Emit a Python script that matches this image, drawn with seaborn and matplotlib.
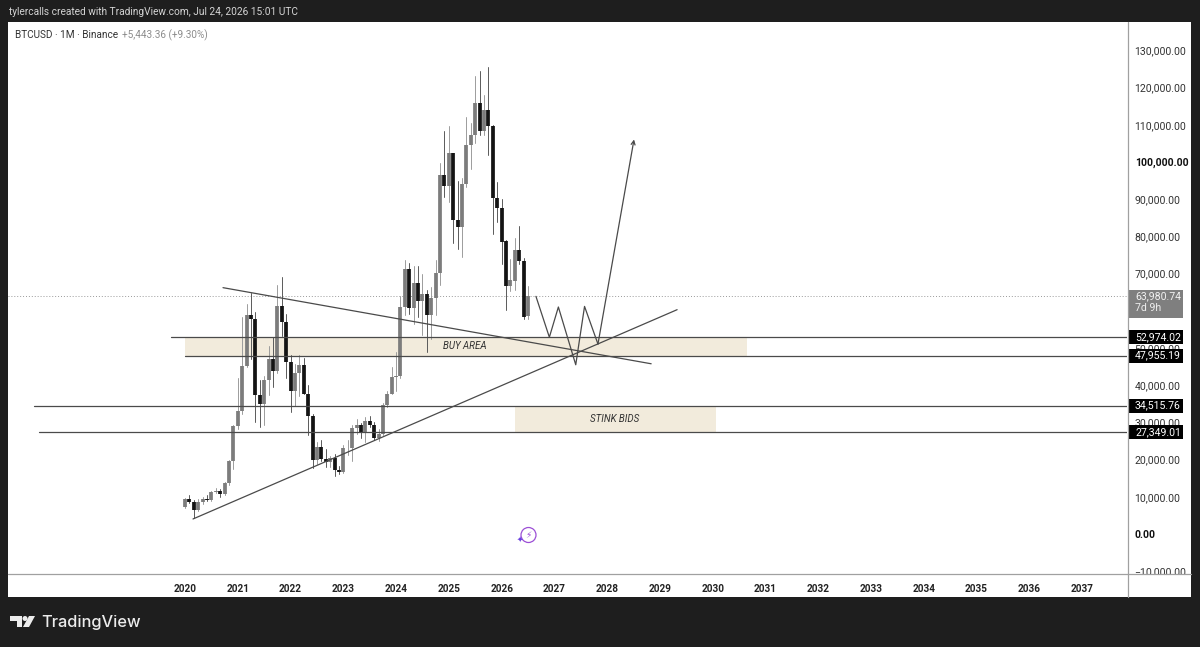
# BTCUSD monthly chart with trade plan drawings

import numpy as np
import pandas as pd
import matplotlib.pyplot as plt
from matplotlib.lines import Line2D
from matplotlib.patches import Rectangle, Ellipse, Polygon
import seaborn as sns

sns.set_theme(style='white')
plt.rcParams['font.family'] = ['Roboto', 'DejaVu Sans']

# Monthly candles, Jan 2020 to Jul 2026
opens = [7195, 9351, 8599, 6412, 8620, 9448, 9138, 11335, 11649, 10776, 13791, 19700,
         28923, 33092, 45134, 58739, 57697, 37253, 35045, 41461, 47100, 43820, 61299, 56950,
         46216, 38466, 43160, 45510, 37630, 31801, 19942, 23296, 20048, 19422, 20490, 17165,
         16541, 23125, 23141, 28465, 29233, 27210, 30471, 29232, 25940, 26963, 34639, 37723,
         42283, 42580, 61130, 71280, 60672, 67491, 62678, 64628, 58974, 63327, 70292, 96407,
         93429, 102429, 84350, 82550, 94172, 104591, 107146, 115764, 108246, 114048, 109608, 90400,
         87500, 78700, 66750, 67900, 76250, 73500, 58537]
highs = [9578, 10500, 9188, 9460, 10067, 10380, 11444, 12468, 12050, 14100, 19863, 29300,
         41950, 58352, 61844, 64854, 59592, 41330, 42448, 50500, 52920, 67000, 69000, 59053,
         47990, 45821, 48189, 47444, 40023, 32387, 24668, 25214, 22799, 20988, 21480, 18387,
         23960, 25250, 29184, 31000, 29820, 31431, 31804, 30230, 28142, 35198, 38450, 45000,
         48969, 64000, 73777, 72797, 71979, 71958, 70000, 65593, 66498, 73620, 99800, 108353,
         109588, 102500, 95000, 95758, 111980, 110530, 123218, 124474, 117900, 125600, 110000, 94600,
         90000, 79000, 73800, 79700, 82700, 74200, 66600]
lows = [6914, 8445, 4300, 6150, 8106, 8833, 8893, 11100, 9825, 10371, 13195, 17572,
        28130, 32296, 44961, 47044, 30000, 28805, 29278, 37332, 39600, 43283, 53256, 42000,
        32917, 34322, 37155, 37578, 26700, 17622, 18781, 19520, 18125, 18136, 15476, 16256,
        16499, 21351, 19549, 26942, 25811, 24800, 28861, 25166, 24900, 26538, 34097, 37617,
        38555, 41892, 59005, 59191, 56552, 58402, 53550, 49000, 52550, 58946, 66835, 90500,
        89256, 78249, 76606, 74508, 93377, 98200, 105100, 107350, 107255, 102000, 80600, 84000,
        72500, 60100, 65200, 65700, 72500, 57900, 57900]
closes = [9352, 8599, 6410, 8620, 9448, 9138, 11335, 11649, 10776, 13791, 19700, 28923,
          33092, 45135, 58740, 57694, 37253, 35045, 41461, 47100, 43824, 61299, 56950, 46216,
          38466, 43160, 45510, 37630, 31801, 19942, 23293, 20050, 19422, 20490, 17163, 16542,
          23125, 23141, 28465, 29233, 27210, 30472, 29232, 25940, 26963, 34639, 37724, 42265,
          42580, 61130, 71280, 60672, 67491, 62678, 64628, 58974, 63327, 70292, 96407, 93429,
          102429, 84350, 82550, 94172, 104591, 107146, 115764, 108246, 114048, 109608, 90400, 87500,
          78400, 66750, 68400, 76250, 73500, 58400, 63980.74]

years = list(range(2020, 2038))
price_ticks = list(range(-10000, 130001, 10000))
bold_ticks = [0, 100000]

# Drawings, x in months since Jan 2020
level_prices = [52974.02, 47955.19, 34515.76, 27349.01]
level_starts = [-3.2, 0, -34.3, -33.2]
trend_down_x, trend_down_y = [8.64, 106], [66220, 45760]
trend_up_x, trend_up_y = [1.82, 111.9], [4040, 60300]
path_x = [79.8, 82.85, 84.9, 88.85, 90.85, 93.9]
path_y = [63880, 52900, 61020, 45490, 61180, 51060]
arrow_tip = (102.1, 106060)
last_price = 63980.74

W, H = 1200, 647
DARK = '#1e1e1e'
LINE = '#4a4a4a'
SAND = '#f2ebdc'
AXIS = '#a0a0a0'

fig = plt.figure(figsize=(W / 100, H / 100), dpi=100, facecolor=DARK)
fig.patches.append(Rectangle((8 / W, 1 - 597 / H), 1183 / W, 575 / H, transform=fig.transFigure,
                             facecolor='white', edgecolor='none', zorder=-5))
ax = fig.add_axes([8 / W, 1 - 574 / H, 1119 / W, 552 / H], facecolor='none')

# Candles: thin line for the wick, thick butt-ended line for the body
months = np.arange(len(opens))
direction = ['up' if c >= o else 'down' for o, c in zip(opens, closes)]
candles = pd.DataFrame({'month': months, 'open': opens, 'high': highs, 'low': lows,
                        'close': closes, 'direction': direction})
wicks = candles.melt(id_vars=['month', 'direction'], value_vars=['low', 'high'], value_name='price')
bodies = candles.melt(id_vars=['month', 'direction'], value_vars=['open', 'close'], value_name='price')

sns.lineplot(data=wicks, x='month', y='price', hue='direction', units='month', estimator=None,
             palette={'up': '#9c9c9c', 'down': '#5a5a5a'}, linewidth=0.7, legend=False, ax=ax, zorder=3)
sns.lineplot(data=bodies, x='month', y='price', hue='direction', units='month', estimator=None,
             palette={'up': '#7c7c7c', 'down': '#141414'}, linewidth=2.7, solid_capstyle='butt',
             legend=False, ax=ax, zorder=4)

# Zones
ax.add_patch(Rectangle((0, level_prices[1]), 127.8, level_prices[0] - level_prices[1],
                       facecolor=SAND, edgecolor='none', zorder=1))
ax.add_patch(Rectangle((75.05, level_prices[3]), 45.75, level_prices[2] - level_prices[3],
                       facecolor=SAND, edgecolor='none', zorder=1))
ax.text(63.7, 50460, 'BUY AREA', style='italic', fontsize=7, color='#333333',
        ha='center', va='center', zorder=6)
ax.text(97.8, 30950, 'STINK BIDS', style='italic', fontsize=7, color='#333333',
        ha='center', va='center', zorder=6)

# Levels and trend lines
ax.axhline(last_price, color='#9a9a9a', linewidth=0.7, linestyle=(0, (1, 2)), zorder=2)
for price, start in zip(level_prices, level_starts):
    ax.plot([start, 214.2], [price, price], color=LINE, linewidth=0.9, zorder=5)
sns.lineplot(x=trend_down_x, y=trend_down_y, color=LINE, linewidth=0.9, ax=ax, zorder=5)
sns.lineplot(x=trend_up_x, y=trend_up_y, color=LINE, linewidth=0.9, ax=ax, zorder=5)
ax.plot(path_x, path_y, color=LINE, linewidth=0.9, zorder=5)
ax.annotate('', xy=arrow_tip, xytext=(path_x[-1], path_y[-1]), zorder=5,
            arrowprops=dict(arrowstyle='->', color=LINE, lw=0.9, shrinkA=0, shrinkB=0, mutation_scale=7))

# Axes
ax.set_xlim(-40.25, 214.2)
ax.set_ylim(-10753, 137634)
ax.set_xlabel('')
ax.set_ylabel('')
ax.yaxis.tick_right()
ax.set_xticks([(y - 2020) * 12 for y in years], [str(y) for y in years])
ax.set_yticks(price_ticks, [f'{p:,.2f}'.replace('-', '\u2212') for p in price_ticks])
ax.tick_params(axis='both', length=0, labelsize=7.6, labelcolor='#333333')
ax.tick_params(axis='x', pad=7, labelcolor='#222222')
ax.tick_params(axis='y', pad=5.5)
for lab in ax.get_xticklabels():
    lab.set_fontweight('bold')
    lab.set_fontsize(7.2)
for lab, p in zip(ax.get_yticklabels(), price_ticks):
    if p in bold_ticks:
        lab.set_fontweight('bold')
        lab.set_color('#111111')
for spine in ax.spines.values():
    spine.set_visible(False)

# Price labels on the scale
label_x = 1 + 8 / 1119
box_x = 1 + 1 / 1119
box_w = 55 / 1119
box_half = 1880
for price in level_prices:
    ax.add_patch(Rectangle((box_x, price - box_half), box_w, 2 * box_half,
                           transform=ax.get_yaxis_transform(), facecolor='black', edgecolor='none',
                           clip_on=False, zorder=7))
    ax.text(label_x, price, f'{price:,.2f}', transform=ax.get_yaxis_transform(), color='white',
            fontsize=7.6, va='center', ha='left', zorder=8, clip_on=False)
ax.add_patch(Rectangle((box_x, 58100), box_w, 7490, transform=ax.get_yaxis_transform(),
                       facecolor='#7f7f7f', edgecolor='none', clip_on=False, zorder=7))
ax.text(label_x, last_price, f'{last_price:,.2f}', transform=ax.get_yaxis_transform(), color='#f2f2f2',
        fontsize=7.6, va='center', ha='left', zorder=8, clip_on=False)
ax.text(label_x, last_price - 3230, '7d 9h', transform=ax.get_yaxis_transform(), color='#eeeeee',
        fontsize=7.6, va='center', ha='left', zorder=8, clip_on=False)

# The time scale hides the bottom of the price scale, and its rules run to the panel edge
fig.patches.append(Rectangle((1128 / W, 1 - 597 / H), 63 / W, 23 / H, transform=fig.transFigure,
                             facecolor='white', edgecolor='none', zorder=1))
fig.add_artist(Line2D([8 / W, 1191 / W], [1 - 574 / H, 1 - 574 / H], color=AXIS, linewidth=0.9, zorder=2))
fig.add_artist(Line2D([1127.7 / W, 1127.7 / W], [1 - 22 / H, 1 - 597 / H], color=AXIS, linewidth=0.9, zorder=2))

# Header and footer
fig.text(9 / W, 1 - 12 / H, 'tylercalls created with TradingView.com, Jul 24, 2026 15:01 UTC',
         color='#d4d4d4', fontsize=7.25, va='center', ha='left')
fig.text(15 / W, 1 - 35 / H, 'BTCUSD \u00b7 1M \u00b7 Binance', color='#333333', fontsize=7.2,
         va='center', ha='left')
fig.text(122 / W, 1 - 35 / H, '+5,443.36 (+9.30%)', color='#8c8c8c', fontsize=7.2,
         va='center', ha='left')
fig.text(41 / W, 1 - 622.5 / H, 'TradingView', color='#ececec', fontsize=11.8, fontweight='medium',
         family='Inter', va='center', ha='left')

# TradingView mark, in pixels from the top left
def px(points):
    return [(x / W, 1 - y / H) for x, y in points]

for shape in [px([(10, 616), (22, 616), (22, 627), (17, 627), (17, 621), (10, 621)]),
              px([(29, 616), (35, 616), (29, 627), (23, 627)])]:
    fig.patches.append(Polygon(shape, closed=True, transform=fig.transFigure,
                               facecolor='#ececec', edgecolor='none'))
fig.patches.append(Ellipse((25 / W, 1 - 618.5 / H), 5 / W, 5 / H, transform=fig.transFigure,
                           facecolor='#ececec', edgecolor='none'))

# Purple bolt marker above the time scale
fig.patches.append(Ellipse((528.5 / W, 1 - 535 / H), 15 / W, 15 / H, transform=fig.transFigure,
                           facecolor='none', edgecolor='#9c4fd6', linewidth=0.9))
fig.text(528.5 / W, 1 - 535 / H, '\u26a1', color='#9c4fd6', fontsize=6.5, family='DejaVu Sans',
         ha='center', va='center')
fig.text(519.5 / W, 1 - 539 / H, '\u2726', color='#6a3fe0', fontsize=5.5, family='DejaVu Sans',
         ha='center', va='center')

fig.savefig('out.png', dpi=100, facecolor=fig.get_facecolor())
